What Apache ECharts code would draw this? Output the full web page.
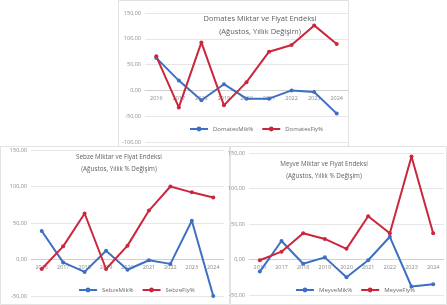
<!DOCTYPE html>
<html>
<head>
<meta charset="utf-8">
<script src="https://cdn.jsdelivr.net/npm/echarts@6/dist/echarts.min.js"></script>
<style>
  html, body { margin: 0; padding: 0; background: #fff; }
  #chart { width: 447px; height: 305px; }
</style>
</head>
<body>
<div id="chart"></div>
<script>
const years = ['2016', '2017', '2018', '2019', '2020', '2021', '2022', '2023', '2024']

// Domates (top)
const domatesMik = [63, 19, -19, 12, -16, -16, 0, -3, -45]
const domatesFiy = [66, -33, 93, -29, 16, 75, 88, 126, 90]
// Sebze (bottom left)
const sebzeMik = [39, -4, -17, 12, -14, -1, -6, 53, -50]
const sebzeFiy = [-13, 18, 63, -13, 19, 67, 100, 92, 85]
// Meyve (bottom right)
const meyveMik = [-17, 26, -6, 3, -25, -1, 32, -38, -35]
const meyveFiy = [-1, 11, 37, 29, 15, 61, 37, 145, 37]

const blue = '#3d6fc2'
const red = '#cc263d'
const fmt = v => v.toFixed(2).replace('.', ',')

const grids = [
  { left: 145, top: 13, width: 203, height: 129, min: -100, max: 150 },
  { left: 31, top: 150, width: 193, height: 146, min: -50, max: 150 },
  { left: 249, top: 153, width: 195, height: 142, min: -50, max: 150 }
]

function yAx(idx) {
  const g = grids[idx]
  return {
    gridIndex: idx, type: 'value', min: g.min, max: g.max, interval: 50,
    axisLabel: { formatter: fmt, fontSize: 5.5, color: '#8a8a8a', margin: 4 },
    axisLine: { show: false }, axisTick: { show: false },
    splitLine: { lineStyle: { color: '#e6e6e6', width: 1 } }
  }
}
function xAx(idx) {
  const g = grids[idx]
  // 把横轴放到0刻度线上
  const off = -g.height * (0 - g.min) / (g.max - g.min)
  return {
    gridIndex: idx, type: 'category', data: years, boundaryGap: true,
    position: 'bottom', offset: off,
    axisLabel: { fontSize: 5.5, color: '#8a8a8a', margin: 5 },
    axisLine: { onZero: false, lineStyle: { color: '#d0d0d0' } },
    axisTick: { show: false }
  }
}
function ser(name, data, color, idx) {
  return {
    name: name, type: 'line', data: data, xAxisIndex: idx, yAxisIndex: idx,
    symbol: 'circle', symbolSize: 4, color: color,
    lineStyle: { width: 2, color: color }, itemStyle: { color: color }
  }
}
function title(l1, l2, x, y, size) {
  return {
    text: l1 + '\n' + l2, left: x, top: y, textAlign: 'center',
    textStyle: { fontSize: size, fontWeight: 'normal', color: '#5e5e5e', lineHeight: size + 5, fontFamily: 'Open Sans' }
  }
}
function leg(names, x, y) {
  return {
    data: names, left: x, top: y, itemWidth: 18, itemHeight: 6, itemGap: 8,
    textStyle: { fontSize: 6, color: '#6a6a6a' }
  }
}

const option = {
  animation: false,
  textStyle: { fontFamily: 'Open Sans' },
  graphic: [
    { type: 'rect', shape: { x: 118.5, y: 0.5, width: 230, height: 146 }, style: { fill: 'none', stroke: '#e2e2e2' } },
    { type: 'rect', shape: { x: 0.5, y: 146.5, width: 229, height: 158 }, style: { fill: 'none', stroke: '#e2e2e2' } },
    { type: 'rect', shape: { x: 230.5, y: 146.5, width: 216, height: 158 }, style: { fill: 'none', stroke: '#e2e2e2' } }
  ],
  title: [
    title('Domates Miktar ve Fiyat Endeksi', '(Ağustos, Yıllık Değişim)', 255, 8, 7.5),
    title('Sebze Miktar ve Fiyat Endeksi', '(Ağustos, Yıllık % Değişim)', 114, 147, 6.3),
    title('Meyve Miktar ve Fiyat Endeksi', '(Ağustos, Yıllık % Değişim)', 319, 154, 6.3)
  ],
  legend: [
    leg(['DomatesMik%', 'DomatesFiy%'], 184, 121),
    leg(['SebzeMik%', 'SebzeFiy%'], 73, 282),
    leg(['MeyveMik%', 'MeyveFiy%'], 290, 282)
  ],
  grid: grids.map(g => ({ left: g.left, top: g.top, width: g.width, height: g.height })),
  xAxis: [xAx(0), xAx(1), xAx(2)],
  yAxis: [yAx(0), yAx(1), yAx(2)],
  series: [
    ser('DomatesMik%', domatesMik, blue, 0),
    ser('DomatesFiy%', domatesFiy, red, 0),
    ser('SebzeMik%', sebzeMik, blue, 1),
    ser('SebzeFiy%', sebzeFiy, red, 1),
    ser('MeyveMik%', meyveMik, blue, 2),
    ser('MeyveFiy%', meyveFiy, red, 2)
  ]
}

const myChart = echarts.init(document.getElementById('chart'))
myChart.setOption(option)
</script>
</body>
</html>
